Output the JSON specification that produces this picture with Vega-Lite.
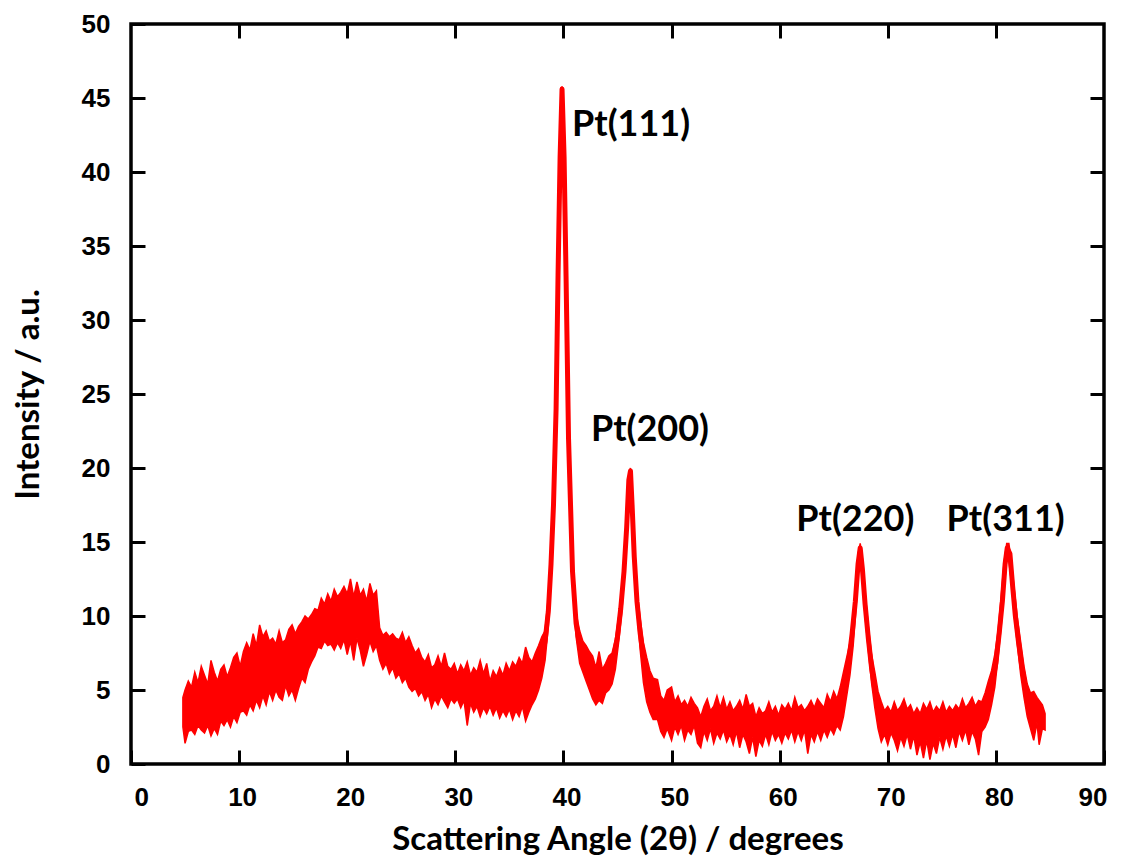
{
  "$schema": "https://vega.github.io/schema/vega-lite/v6.json",
  "width": 973,
  "height": 740,
  "autosize": {"type": "none"},
  "padding": {"left": 131, "top": 24, "right": 22, "bottom": 92},
  "background": "white",
  "config": {
    "view": {"stroke": "black", "strokeWidth": 3.5},
    "axis": {
      "grid": false,
      "domain": false,
      "ticks": true,
      "tickColor": "black",
      "tickWidth": 3,
      "tickSize": -14,
      "labelFont": "Liberation Sans",
      "labelFontWeight": "bold",
      "labelFontSize": 26,
      "labelColor": "black",
      "titleFont": "Lato",
      "titleFontWeight": "bold",
      "titleFontSize": 33,
      "titleColor": "black"
    }
  },
  "datasets": {
    "band": [
      {"x":4.8,"lo":2.5,"hi":4.5},{"x":5.0,"lo":1.4,"hi":5.0},{"x":5.3,"lo":2.2,"hi":5.6},{"x":5.6,"lo":2.3,"hi":5.2},
      {"x":5.9,"lo":2.0,"hi":6.2},{"x":6.2,"lo":2.6,"hi":5.5},{"x":6.5,"lo":2.3,"hi":6.6},{"x":6.8,"lo":2.1,"hi":6.0},
      {"x":7.1,"lo":2.6,"hi":5.4},{"x":7.4,"lo":1.9,"hi":7.0},{"x":7.7,"lo":2.4,"hi":6.2},{"x":8.0,"lo":2.0,"hi":5.6},
      {"x":8.3,"lo":2.9,"hi":6.4},{"x":8.6,"lo":2.6,"hi":6.7},{"x":8.9,"lo":3.0,"hi":5.9},{"x":9.2,"lo":2.5,"hi":6.5},
      {"x":9.5,"lo":3.2,"hi":7.2},{"x":9.8,"lo":2.8,"hi":7.5},{"x":10.1,"lo":3.5,"hi":6.6},{"x":10.4,"lo":3.6,"hi":7.6},
      {"x":10.7,"lo":3.3,"hi":8.2},{"x":11.0,"lo":4.0,"hi":7.7},{"x":11.3,"lo":3.6,"hi":8.8},{"x":11.6,"lo":4.3,"hi":8.0},
      {"x":11.9,"lo":3.8,"hi":9.4},{"x":12.2,"lo":4.6,"hi":8.6},{"x":12.5,"lo":4.0,"hi":9.0},{"x":12.8,"lo":4.9,"hi":8.3},
      {"x":13.1,"lo":4.3,"hi":8.5},{"x":13.4,"lo":5.0,"hi":8.1},{"x":13.7,"lo":4.5,"hi":9.0},{"x":14.0,"lo":4.3,"hi":8.2},
      {"x":14.3,"lo":5.3,"hi":8.4},{"x":14.6,"lo":4.6,"hi":9.1},{"x":14.9,"lo":5.0,"hi":9.4},{"x":15.2,"lo":4.3,"hi":8.8},
      {"x":15.5,"lo":5.1,"hi":9.3},{"x":15.8,"lo":5.8,"hi":9.6},{"x":16.1,"lo":5.5,"hi":10.0},{"x":16.4,"lo":6.4,"hi":9.8},
      {"x":16.7,"lo":6.9,"hi":10.1},{"x":17.0,"lo":7.3,"hi":10.5},{"x":17.3,"lo":7.9,"hi":10.4},{"x":17.6,"lo":7.8,"hi":11.2},
      {"x":17.9,"lo":8.3,"hi":10.8},{"x":18.2,"lo":8.0,"hi":11.5},{"x":18.5,"lo":8.1,"hi":11.0},{"x":18.8,"lo":7.7,"hi":11.8},
      {"x":19.1,"lo":8.2,"hi":11.3},{"x":19.4,"lo":7.8,"hi":11.6},{"x":19.7,"lo":8.4,"hi":12.0},{"x":20.0,"lo":7.4,"hi":11.5},
      {"x":20.3,"lo":8.3,"hi":12.5},{"x":20.6,"lo":7.0,"hi":11.3},{"x":20.9,"lo":8.5,"hi":12.3},{"x":21.2,"lo":7.7,"hi":11.4},
      {"x":21.5,"lo":6.6,"hi":11.8},{"x":21.8,"lo":7.4,"hi":11.0},{"x":22.1,"lo":8.3,"hi":12.2},{"x":22.4,"lo":7.6,"hi":11.4},
      {"x":22.7,"lo":8.0,"hi":11.7},{"x":23.0,"lo":7.0,"hi":9.2},{"x":23.3,"lo":6.4,"hi":8.7},{"x":23.6,"lo":6.8,"hi":8.9},
      {"x":23.9,"lo":6.1,"hi":8.6},{"x":24.2,"lo":6.5,"hi":8.8},{"x":24.5,"lo":5.8,"hi":8.5},{"x":24.8,"lo":6.1,"hi":8.4},
      {"x":25.1,"lo":5.5,"hi":8.9},{"x":25.4,"lo":5.8,"hi":8.2},{"x":25.7,"lo":5.2,"hi":8.6},{"x":26.0,"lo":4.9,"hi":8.0},
      {"x":26.3,"lo":5.1,"hi":7.5},{"x":26.6,"lo":4.6,"hi":7.8},{"x":26.9,"lo":4.9,"hi":7.2},{"x":27.2,"lo":4.3,"hi":6.9},
      {"x":27.5,"lo":4.7,"hi":7.4},{"x":27.8,"lo":3.8,"hi":6.5},{"x":28.1,"lo":4.4,"hi":6.7},{"x":28.4,"lo":4.0,"hi":7.3},
      {"x":28.7,"lo":4.6,"hi":6.6},{"x":29.0,"lo":4.2,"hi":7.5},{"x":29.3,"lo":3.8,"hi":6.6},{"x":29.6,"lo":4.4,"hi":6.4},
      {"x":29.9,"lo":4.1,"hi":6.8},{"x":30.2,"lo":4.4,"hi":6.1},{"x":30.5,"lo":3.8,"hi":6.7},{"x":30.8,"lo":4.3,"hi":6.3},
      {"x":31.1,"lo":2.6,"hi":6.9},{"x":31.4,"lo":4.1,"hi":6.0},{"x":31.7,"lo":3.5,"hi":6.5},{"x":32.0,"lo":3.9,"hi":6.2},
      {"x":32.3,"lo":3.2,"hi":7.0},{"x":32.6,"lo":3.8,"hi":6.1},{"x":32.9,"lo":3.4,"hi":6.8},{"x":33.2,"lo":3.9,"hi":5.6},
      {"x":33.5,"lo":3.3,"hi":6.3},{"x":33.8,"lo":3.8,"hi":5.9},{"x":34.1,"lo":3.1,"hi":6.5},{"x":34.4,"lo":3.6,"hi":6.0},
      {"x":34.7,"lo":3.2,"hi":6.8},{"x":35.0,"lo":3.7,"hi":6.3},{"x":35.3,"lo":3.0,"hi":6.9},{"x":35.6,"lo":3.6,"hi":6.6},
      {"x":35.9,"lo":3.2,"hi":7.2},{"x":36.2,"lo":3.9,"hi":6.8},{"x":36.5,"lo":2.9,"hi":7.9},{"x":36.8,"lo":3.5,"hi":7.2},
      {"x":37.1,"lo":4.0,"hi":6.9},{"x":37.4,"lo":4.4,"hi":7.5},{"x":37.7,"lo":5.0,"hi":8.0},{"x":38.0,"lo":5.8,"hi":8.6},
      {"x":38.3,"lo":7.0,"hi":9.0},{"x":38.6,"lo":9.3,"hi":11.3},{"x":38.85,"lo":12.5,"hi":14.3},{"x":39.08,"lo":16.5,"hi":18.3},
      {"x":39.32,"lo":23.3,"hi":24.7},{"x":39.5,"lo":32.4,"hi":33.6},{"x":39.69,"lo":40.5,"hi":41.5},{"x":39.87,"lo":45.0,"hi":45.8},
      {"x":40.06,"lo":40.5,"hi":41.5},{"x":40.24,"lo":32.4,"hi":33.6},{"x":40.47,"lo":21.3,"hi":22.7},{"x":40.66,"lo":16.6,"hi":18.0},
      {"x":40.84,"lo":12.2,"hi":13.8},{"x":41.17,"lo":8.6,"hi":10.2},{"x":41.5,"lo":6.8,"hi":9.0},{"x":41.8,"lo":6.2,"hi":8.3},
      {"x":42.1,"lo":5.6,"hi":8.0},{"x":42.4,"lo":5.0,"hi":7.6},{"x":42.7,"lo":4.4,"hi":7.3},{"x":43.0,"lo":4.0,"hi":6.5},
      {"x":43.3,"lo":4.3,"hi":7.6},{"x":43.6,"lo":4.1,"hi":6.4},{"x":43.9,"lo":4.8,"hi":6.8},{"x":44.2,"lo":5.0,"hi":7.3},
      {"x":44.5,"lo":5.4,"hi":7.5},{"x":44.8,"lo":6.4,"hi":8.4},{"x":45.1,"lo":8.2,"hi":9.9},{"x":45.4,"lo":10.3,"hi":11.8},
      {"x":45.65,"lo":12.8,"hi":14.2},{"x":45.85,"lo":15.3,"hi":16.7},{"x":46.05,"lo":18.4,"hi":19.6},{"x":46.2,"lo":19.0,"hi":20.0},
      {"x":46.35,"lo":16.8,"hi":18.2},{"x":46.55,"lo":13.3,"hi":14.7},{"x":46.8,"lo":10.4,"hi":11.8},{"x":47.1,"lo":7.7,"hi":9.8},
      {"x":47.4,"lo":5.5,"hi":8.2},{"x":47.7,"lo":4.2,"hi":7.2},{"x":48.0,"lo":3.5,"hi":6.3},{"x":48.3,"lo":3.0,"hi":5.8},
      {"x":48.7,"lo":3.0,"hi":5.7},{"x":49.0,"lo":2.2,"hi":4.6},{"x":49.3,"lo":1.8,"hi":4.3},{"x":49.6,"lo":2.4,"hi":5.0},
      {"x":50.0,"lo":1.6,"hi":5.2},{"x":50.3,"lo":2.5,"hi":4.2},{"x":50.6,"lo":2.0,"hi":4.6},{"x":50.9,"lo":2.6,"hi":4.0},
      {"x":51.2,"lo":1.6,"hi":4.3},{"x":51.5,"lo":2.3,"hi":3.9},{"x":51.8,"lo":2.0,"hi":4.5},{"x":52.1,"lo":2.6,"hi":4.1},
      {"x":52.4,"lo":1.4,"hi":3.8},{"x":52.7,"lo":1.1,"hi":3.2},{"x":53.0,"lo":2.2,"hi":3.9},{"x":53.3,"lo":1.6,"hi":4.4},
      {"x":53.6,"lo":2.4,"hi":3.6},{"x":53.9,"lo":1.4,"hi":3.9},{"x":54.2,"lo":2.1,"hi":4.6},{"x":54.5,"lo":1.7,"hi":3.8},
      {"x":54.8,"lo":2.3,"hi":4.5},{"x":55.1,"lo":1.5,"hi":3.7},{"x":55.4,"lo":2.0,"hi":4.2},{"x":55.7,"lo":1.3,"hi":3.6},
      {"x":56.0,"lo":2.2,"hi":3.9},{"x":56.3,"lo":1.1,"hi":4.3},{"x":56.6,"lo":2.0,"hi":3.7},{"x":56.9,"lo":1.5,"hi":4.7},
      {"x":57.2,"lo":0.7,"hi":3.9},{"x":57.5,"lo":1.8,"hi":4.1},{"x":57.8,"lo":0.5,"hi":3.2},{"x":58.1,"lo":1.6,"hi":3.8},
      {"x":58.4,"lo":1.2,"hi":3.4},{"x":58.7,"lo":2.0,"hi":3.6},{"x":59.0,"lo":1.3,"hi":4.2},{"x":59.3,"lo":2.2,"hi":3.5},
      {"x":59.6,"lo":1.6,"hi":3.9},{"x":59.9,"lo":2.0,"hi":3.3},{"x":60.2,"lo":1.4,"hi":4.0},{"x":60.5,"lo":2.1,"hi":3.7},
      {"x":60.8,"lo":1.7,"hi":4.1},{"x":61.1,"lo":2.3,"hi":3.6},{"x":61.4,"lo":1.5,"hi":4.5},{"x":61.7,"lo":2.2,"hi":3.8},
      {"x":62.0,"lo":1.6,"hi":4.0},{"x":62.3,"lo":2.3,"hi":3.6},{"x":62.6,"lo":0.7,"hi":3.9},{"x":62.9,"lo":2.0,"hi":4.3},
      {"x":63.2,"lo":1.5,"hi":3.8},{"x":63.5,"lo":2.2,"hi":4.4},{"x":63.8,"lo":1.6,"hi":4.1},{"x":64.1,"lo":2.3,"hi":3.8},
      {"x":64.4,"lo":1.8,"hi":4.7},{"x":64.7,"lo":2.4,"hi":4.2},{"x":65.0,"lo":2.0,"hi":4.9},{"x":65.3,"lo":2.6,"hi":4.4},
      {"x":65.6,"lo":2.3,"hi":5.2},{"x":65.9,"lo":3.2,"hi":6.2},{"x":66.2,"lo":4.6,"hi":7.2},{"x":66.5,"lo":6.0,"hi":8.2},
      {"x":66.8,"lo":8.0,"hi":9.8},{"x":67.05,"lo":10.4,"hi":12.0},{"x":67.25,"lo":12.8,"hi":14.2},{"x":67.45,"lo":14.0,"hi":14.9},
      {"x":67.65,"lo":12.5,"hi":13.9},{"x":67.9,"lo":10.0,"hi":11.6},{"x":68.2,"lo":7.7,"hi":9.3},{"x":68.5,"lo":5.5,"hi":7.4},
      {"x":68.8,"lo":3.8,"hi":6.2},{"x":69.1,"lo":2.4,"hi":4.9},{"x":69.4,"lo":1.5,"hi":4.2},{"x":69.7,"lo":2.0,"hi":3.6},
      {"x":70.0,"lo":1.3,"hi":3.9},{"x":70.3,"lo":2.1,"hi":3.5},{"x":70.6,"lo":1.6,"hi":4.2},{"x":70.9,"lo":0.9,"hi":3.6},
      {"x":71.2,"lo":1.8,"hi":3.9},{"x":71.5,"lo":1.2,"hi":4.4},{"x":71.8,"lo":2.0,"hi":3.7},{"x":72.1,"lo":1.0,"hi":4.0},
      {"x":72.4,"lo":1.9,"hi":3.4},{"x":72.7,"lo":0.6,"hi":3.8},{"x":73.0,"lo":1.5,"hi":3.4},{"x":73.3,"lo":0.4,"hi":4.1},
      {"x":73.6,"lo":1.6,"hi":3.7},{"x":73.9,"lo":0.3,"hi":4.2},{"x":74.2,"lo":1.4,"hi":3.5},{"x":74.5,"lo":0.7,"hi":3.9},
      {"x":74.8,"lo":1.8,"hi":3.6},{"x":75.1,"lo":1.0,"hi":4.2},{"x":75.4,"lo":1.9,"hi":3.5},{"x":75.7,"lo":1.2,"hi":3.9},
      {"x":76.0,"lo":2.0,"hi":3.6},{"x":76.3,"lo":1.1,"hi":4.0},{"x":76.6,"lo":2.2,"hi":3.7},{"x":76.9,"lo":1.6,"hi":4.4},
      {"x":77.2,"lo":2.3,"hi":3.8},{"x":77.5,"lo":1.3,"hi":4.1},{"x":77.8,"lo":2.2,"hi":4.5},{"x":78.1,"lo":1.7,"hi":3.9},
      {"x":78.4,"lo":0.6,"hi":4.3},{"x":78.7,"lo":2.2,"hi":4.2},{"x":79.0,"lo":2.5,"hi":4.8},{"x":79.3,"lo":3.0,"hi":5.6},
      {"x":79.6,"lo":4.0,"hi":6.3},{"x":79.9,"lo":5.2,"hi":7.4},{"x":80.2,"lo":7.2,"hi":9.0},{"x":80.5,"lo":9.4,"hi":11.4},
      {"x":80.75,"lo":11.8,"hi":13.6},{"x":81.0,"lo":13.8,"hi":14.9},{"x":81.2,"lo":13.7,"hi":14.9},{"x":81.45,"lo":12.2,"hi":13.6},
      {"x":81.7,"lo":10.0,"hi":11.8},{"x":82.0,"lo":8.0,"hi":9.8},{"x":82.3,"lo":6.0,"hi":8.2},{"x":82.6,"lo":4.5,"hi":6.6},
      {"x":82.9,"lo":3.2,"hi":5.4},{"x":83.2,"lo":2.4,"hi":4.8},{"x":83.5,"lo":1.6,"hi":4.9},{"x":83.8,"lo":2.8,"hi":4.5},
      {"x":84.0,"lo":1.3,"hi":4.3},{"x":84.3,"lo":2.4,"hi":4.0},{"x":84.55,"lo":2.3,"hi":3.4}
    ],
    "peaks": [
      {"pk":"111","x":38.0,"c":7.2},{"pk":"111","x":38.3,"c":8.3},{"pk":"111","x":38.6,"c":10.3},{"pk":"111","x":38.85,"c":13.5},
      {"pk":"111","x":39.08,"c":17.5},{"pk":"111","x":39.32,"c":24},{"pk":"111","x":39.5,"c":33},{"pk":"111","x":39.69,"c":41},
      {"pk":"111","x":39.87,"c":45.6},{"pk":"111","x":40.06,"c":41},{"pk":"111","x":40.24,"c":33},{"pk":"111","x":40.47,"c":22},
      {"pk":"111","x":40.66,"c":17.4},{"pk":"111","x":40.84,"c":13},{"pk":"111","x":41.17,"c":9.5},{"pk":"111","x":41.5,"c":8.0},
      {"pk":"111","x":41.8,"c":7.3},
      {"pk":"200","x":44.6,"c":7.0},{"pk":"200","x":45.0,"c":8.6},{"pk":"200","x":45.3,"c":10.5},{"pk":"200","x":45.6,"c":13.0},
      {"pk":"200","x":45.85,"c":16.0},{"pk":"200","x":46.05,"c":19.2},{"pk":"200","x":46.2,"c":19.8},{"pk":"200","x":46.35,"c":17.5},
      {"pk":"200","x":46.55,"c":14.0},{"pk":"200","x":46.8,"c":11.0},{"pk":"200","x":47.1,"c":8.8},{"pk":"200","x":47.4,"c":7.2},
      {"pk":"200","x":47.8,"c":6.0},
      {"pk":"220","x":65.7,"c":4.0},{"pk":"220","x":66.1,"c":5.5},{"pk":"220","x":66.4,"c":7.0},{"pk":"220","x":66.7,"c":8.8},
      {"pk":"220","x":67.0,"c":11.0},{"pk":"220","x":67.25,"c":13.5},{"pk":"220","x":67.45,"c":14.6},{"pk":"220","x":67.65,"c":13.2},
      {"pk":"220","x":67.9,"c":10.8},{"pk":"220","x":68.2,"c":8.5},{"pk":"220","x":68.5,"c":6.5},{"pk":"220","x":68.8,"c":5.0},
      {"pk":"220","x":69.2,"c":3.8},
      {"pk":"311","x":79.3,"c":4.2},{"pk":"311","x":79.7,"c":5.6},{"pk":"311","x":80.0,"c":6.8},{"pk":"311","x":80.3,"c":8.8},
      {"pk":"311","x":80.6,"c":11.0},{"pk":"311","x":80.85,"c":13.5},{"pk":"311","x":81.05,"c":14.6},{"pk":"311","x":81.3,"c":14.2},
      {"pk":"311","x":81.55,"c":12.0},{"pk":"311","x":81.8,"c":10.0},{"pk":"311","x":82.1,"c":8.2},{"pk":"311","x":82.4,"c":6.6},
      {"pk":"311","x":82.7,"c":5.3}
    ],
    "labels": [
      {"x":46.25,"y":43.2,"label":"Pt(111)"},
      {"x":48.0,"y":22.6,"label":"Pt(200)"},
      {"x":67.0,"y":16.5,"label":"Pt(220)"},
      {"x":80.9,"y":16.5,"label":"Pt(311)"}
    ]
  },
  "resolve": {"axis": {"x": "independent", "y": "independent"}},
  "layer": [
    {
      "data": {"name": "band"},
      "mark": {"type": "area", "color": "#ff0000", "stroke": "#ff0000", "strokeWidth": 1.5, "interpolate": "linear"},
      "encoding": {
        "x": {"field": "x", "type": "quantitative",
              "scale": {"domain": [0, 90], "nice": false, "zero": false},
              "axis": {"orient": "bottom", "values": [0,10,20,30,40,50,60,70,80,90], "labelPadding": 34, "labelOffset": 3,
                       "title": "Scattering Angle (2θ) / degrees", "titlePadding": 13}},
        "y": {"field": "hi", "type": "quantitative",
              "scale": {"domain": [0, 50], "nice": false, "zero": false},
              "axis": {"orient": "left", "values": [0,5,10,15,20,25,30,35,40,45,50], "labelPadding": 35,
                       "title": "Intensity / a.u.", "titlePadding": 36}},
        "y2": {"field": "lo"}
      }
    },
    {
      "data": {"name": "peaks"},
      "mark": {"type": "line", "color": "#ff0000", "strokeWidth": 5, "strokeJoin": "round", "strokeCap": "round"},
      "encoding": {
        "x": {"field": "x", "type": "quantitative",
              "axis": {"orient": "top", "values": [10,20,30,40,50,60,70,80], "labels": false, "title": null}},
        "y": {"field": "c", "type": "quantitative",
              "axis": {"orient": "right", "values": [5,10,15,20,25,30,35,40,45], "labels": false, "title": null}},
        "detail": {"field": "pk"}
      }
    },
    {
      "data": {"name": "labels"},
      "mark": {"type": "text", "font": "Lato", "fontWeight": "bold", "fontSize": 36, "color": "black", "align": "center", "baseline": "middle"},
      "encoding": {
        "x": {"field": "x", "type": "quantitative", "axis": null},
        "y": {"field": "y", "type": "quantitative", "axis": null},
        "text": {"field": "label"}
      }
    }
  ]
}
